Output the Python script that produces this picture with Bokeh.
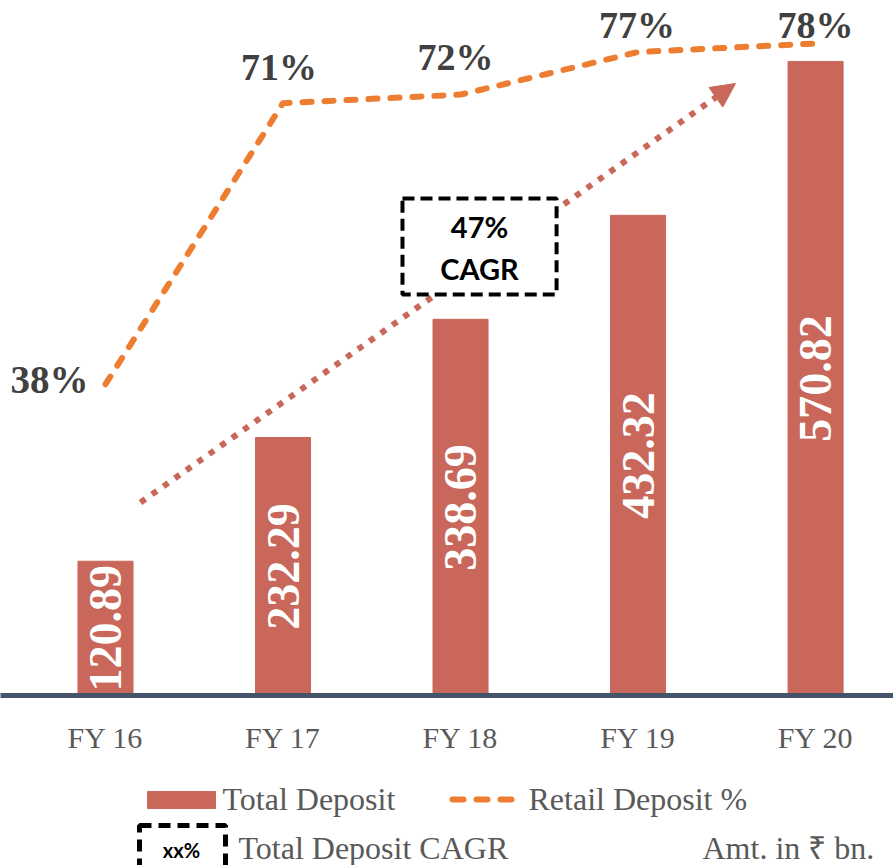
import numpy as np
from bokeh.plotting import figure
from bokeh.models import Range1d, FixedTicker, Arrow, NormalHead, BoxAnnotation, Label
from bokeh.layouts import column
from bokeh.core.properties import value
from bokeh.embed import file_html
from bokeh.resources import INLINE

# ---- data ----
years = ["FY 16", "FY 17", "FY 18", "FY 19", "FY 20"]
total_deposit = [120.89, 232.29, 338.69, 432.32, 570.82]
retail_pct = [38, 71, 72, 77, 78]
cagr_text = ["47%", "CAGR"]
legend_labels = ["Total Deposit", "Retail Deposit %", "Total Deposit CAGR"]
unit_note = "Amt. in \u20b9 bn."

# ---- styles ----
BAR = "#C8675A"
ORANGE = "#ED7D31"
AXIS = "#44546A"
GRAY = "#595959"
DARK = "#404040"
SERIF = "Liberation Serif"

xs = list(range(len(years)))

p = figure(width=893, height=765, output_backend="svg", toolbar_location=None,
           x_range=Range1d(-0.5915, 4.439), y_range=Range1d(0, 625.7),
           y_axis_location=None,
           min_border_left=0, min_border_right=0, min_border_top=0, min_border_bottom=70)
p.extra_y_ranges = {"pct": Range1d(1.456, 83.05)}
p.outline_line_color = None
p.xgrid.visible = False
p.ygrid.visible = False

ax = p.xaxis[0]
ax.ticker = FixedTicker(ticks=xs)
ax.major_label_overrides = {i: y for i, y in zip(xs, years)}
ax.axis_line_color = AXIS
ax.axis_line_width = 5
ax.major_tick_line_color = None
ax.minor_tick_line_color = None
ax.major_tick_out = 0
ax.major_tick_in = 0
ax.major_label_standoff = 25
ax.major_label_text_font = SERIF
ax.major_label_text_font_size = "30px"
ax.major_label_text_color = GRAY

# bars
p.vbar(x=xs, top=total_deposit, bottom=0, width=0.31, color=BAR)

# bar value labels (vertical)
p.text(x=xs, y=[v / 2 for v in total_deposit], text=[f"{v:.2f}" for v in total_deposit],
       angle=np.pi / 2, text_align="center", text_baseline="middle",
       text_color="white", text_font=value(SERIF), text_font_style="bold",
       text_font_size="46px")

# CAGR arrow
arrow = Arrow(end=NormalHead(size=24, fill_color=BAR, line_color=BAR, line_width=1),
              x_start=0.197, y_start=173.8, x_end=3.549, y_end=551,
              line_color=BAR, line_width=6, line_dash="6 8")
p.add_layout(arrow)

# CAGR box
box = BoxAnnotation(left=1.673, right=2.541, bottom=361, top=447.5,
                    fill_color="white", fill_alpha=1.0, line_color="black",
                    line_width=4, line_dash="12 6", line_alpha=1.0)
p.add_layout(box)
p.add_layout(Label(x=2.107, y=422.3, text=cagr_text[0], text_align="center",
                   text_baseline="middle", text_font="Lato", text_font_style="bold",
                   text_font_size="29px", text_color="black"))
p.add_layout(Label(x=2.107, y=384.4, text=cagr_text[1], text_align="center",
                   text_baseline="middle", text_font="Lato", text_font_style="bold",
                   text_font_size="29px", text_color="black"))

# retail deposit % line
p.line(xs, retail_pct, y_range_name="pct", line_color=ORANGE, line_width=6,
       line_dash="9 13", line_cap="round", line_join="round")

# percentage labels
p.text(x=xs[:1], y=retail_pct[:1], text=[f"{retail_pct[0]}%"], y_range_name="pct",
       x_offset=-17, y_offset=-5, text_align="right", text_baseline="middle",
       text_color=DARK, text_font=value(SERIF), text_font_style="bold",
       text_font_size="39px")
p.text(x=xs[1:], y=retail_pct[1:], text=[f"{v}%" for v in retail_pct[1:]],
       y_range_name="pct", x_offset=[-4, -5, -1, 0], y_offset=[-36, -38, -27, -19],
       text_align="center", text_baseline="middle",
       text_color=DARK, text_font=value(SERIF), text_font_style="bold",
       text_font_size="38px")

# ---- legend figure ----
lg = figure(width=893, height=100, output_backend="svg", toolbar_location=None,
            x_range=Range1d(0, 893), y_range=Range1d(865, 765),
            x_axis_location=None, y_axis_location=None, min_border=0)
lg.outline_line_color = None
lg.xgrid.visible = False
lg.ygrid.visible = False

lg.quad(left=147, right=215, top=791, bottom=808, color=BAR)
lg.text(x=[222], y=[798], text=[legend_labels[0]], text_align="left", text_baseline="middle",
        text_color=GRAY, text_font=value(SERIF), text_font_size="32px")
lg.line([452, 513], [799, 799], line_color=ORANGE, line_width=6, line_dash="11 13",
        line_cap="round")
lg.text(x=[528], y=[798], text=[legend_labels[1]], text_align="left", text_baseline="middle",
        text_color=GRAY, text_font=value(SERIF), text_font_size="32px")
lg.quad(left=139, right=225, top=825, bottom=885, fill_color=None, line_color="black",
        line_width=5, line_dash="12 7")
lg.text(x=[181], y=[849], text=["xx%"], text_align="center", text_baseline="middle",
        text_color="black", text_font=value("Lato"), text_font_style="bold",
        text_font_size="20px")
lg.text(x=[238], y=[847], text=[legend_labels[2]], text_align="left", text_baseline="middle",
        text_color=GRAY, text_font=value(SERIF), text_font_size="32px")
lg.text(x=[702], y=[847], text=[unit_note], text_align="left", text_baseline="middle",
        text_color=GRAY, text_font=value(SERIF), text_font_size="32px")

layout = column(p, lg, spacing=0)
open("out.html", "w").write(file_html(layout, INLINE))
